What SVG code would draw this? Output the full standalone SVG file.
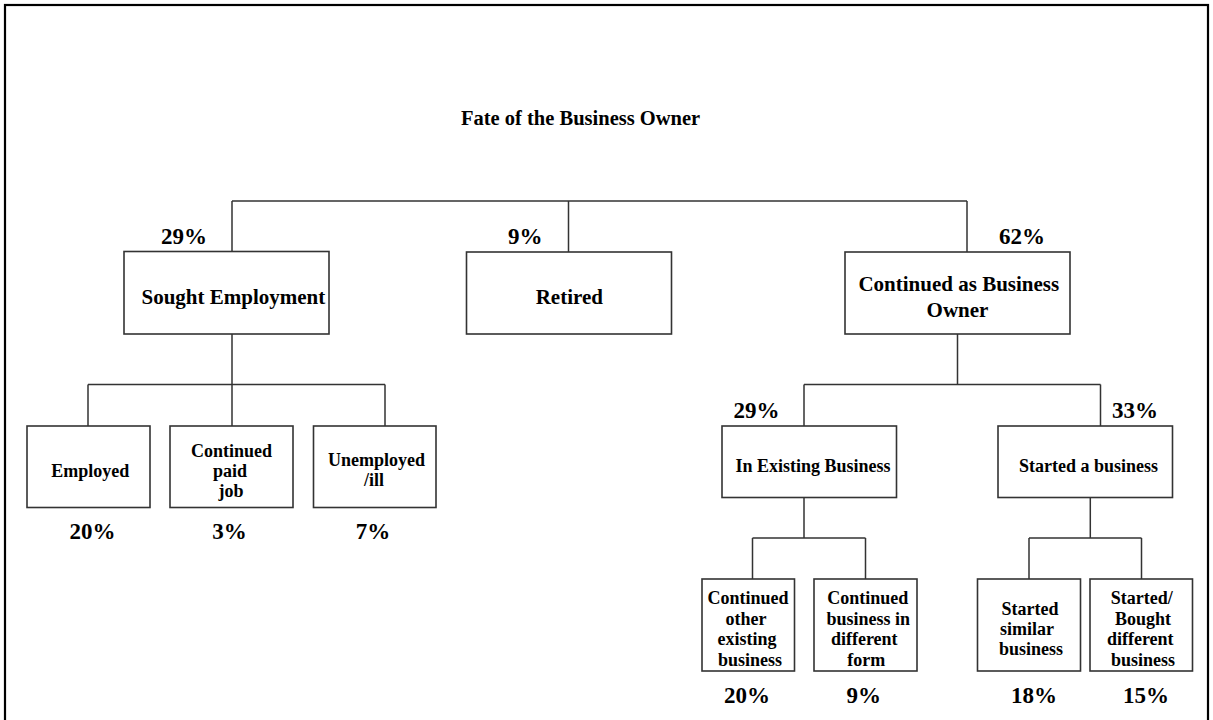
<svg xmlns="http://www.w3.org/2000/svg" width="1213" height="720" viewBox="0 0 1213 720">
<style>
text{font-family:"Liberation Serif","Times New Roman",serif;font-weight:bold;fill:#000}
.t{font-size:20.5px}
.l{font-size:21px}
.s{font-size:18px}
.p{font-size:23px}
.m{text-anchor:middle}
.box{fill:#fff;stroke:#333;stroke-width:1.6}
.c{fill:none;stroke:#333;stroke-width:1.5}
</style>
<rect x="5" y="5" width="1203" height="740" fill="#fff" stroke="#000" stroke-width="2.2"/>
<text class="t" x="461" y="125">Fate of the Business Owner</text>
<g id="connectors" class="c">
<path d="M232,201H967M232,201V251.5M568.5,201V252M967,201V252"/>
<path d="M232,334V426M88,384.5H385M88,384.5V426M385,384.5V426"/>
<path d="M957.5,334V384.5M804,384.5H1100.5M804,384.5V426M1100.5,384.5V426"/>
<path d="M804,497.5V538M752.5,538H865.5M752.5,538V579M865.5,538V579"/>
<path d="M1090.3,497.5V538M1029,538H1141.5M1029,538V579M1141.5,538V579"/>
</g>
<g id="sought">
<rect class="box" x="124" y="251.5" width="205" height="82.5"/>
<text class="p" x="161" y="243.5">29%</text>
<text class="l" x="141.5" y="304">Sought Employment</text>
</g>
<g id="retired">
<rect class="box" x="466.5" y="252" width="205" height="82"/>
<text class="p" x="508" y="244">9%</text>
<text class="l m" x="569.3" y="304">Retired</text>
</g>
<g id="owner">
<rect class="box" x="845" y="252" width="225" height="82"/>
<text class="p" x="999" y="244">62%</text>
<text class="l m" x="958.8" y="291">Continued as Business</text>
<text class="l m" x="957.5" y="316.7">Owner</text>
</g>
<g id="employed">
<rect class="box" x="27" y="426" width="123" height="81.5"/>
<text class="s m" x="90.3" y="476.7">Employed</text>
<text class="p m" x="92.5" y="539.3">20%</text>
</g>
<g id="paidjob">
<rect class="box" x="170" y="426" width="123" height="81.5"/>
<text class="s m" x="231.5" y="457">Continued</text>
<text class="s m" x="230" y="477">paid</text>
<text class="s m" x="231" y="497">job</text>
<text class="p m" x="229.5" y="539.3">3%</text>
</g>
<g id="unemployed">
<rect class="box" x="313.5" y="426" width="122.5" height="81.5"/>
<text class="s m" x="376.6" y="466">Unemployed</text>
<text class="s m" x="374" y="486">/ill</text>
<text class="p m" x="373" y="539.3">7%</text>
</g>
<g id="existing">
<rect class="box" x="722" y="426" width="174.5" height="71.5"/>
<text class="p" x="733.5" y="418.3">29%</text>
<text class="s" x="735.5" y="471.7">In Existing Business</text>
</g>
<g id="started">
<rect class="box" x="998" y="426" width="174.5" height="71.5"/>
<text class="p" x="1112" y="418.3">33%</text>
<text class="s" x="1019" y="471.7">Started a business</text>
</g>
<g id="otherexisting">
<rect class="box" x="702" y="579" width="92.5" height="92"/>
<text class="s m" x="748" y="604">Continued</text>
<text class="s m" x="746" y="624.5">other</text>
<text class="s m" x="747" y="645">existing</text>
<text class="s m" x="750" y="665.5">business</text>
<text class="p m" x="747" y="702.7">20%</text>
</g>
<g id="differentform">
<rect class="box" x="814" y="579" width="103" height="92"/>
<text class="s m" x="867.8" y="604">Continued</text>
<text class="s m" x="868.3" y="624.5">business in</text>
<text class="s m" x="864.3" y="645">different</text>
<text class="s m" x="866.3" y="665.5">form</text>
<text class="p m" x="863.7" y="702.7">9%</text>
</g>
<g id="similar">
<rect class="box" x="977.5" y="579" width="103" height="92"/>
<text class="s m" x="1030" y="615">Started</text>
<text class="s m" x="1027" y="635">similar</text>
<text class="s m" x="1031" y="655">business</text>
<text class="p m" x="1034" y="702.7">18%</text>
</g>
<g id="boughtdifferent">
<rect class="box" x="1090" y="579" width="102.5" height="92"/>
<text class="s m" x="1141.7" y="604">Started/</text>
<text class="s m" x="1143" y="624.5">Bought</text>
<text class="s m" x="1140.3" y="645">different</text>
<text class="s m" x="1143" y="665.5">business</text>
<text class="p m" x="1146" y="702.7">15%</text>
</g>
</svg>
